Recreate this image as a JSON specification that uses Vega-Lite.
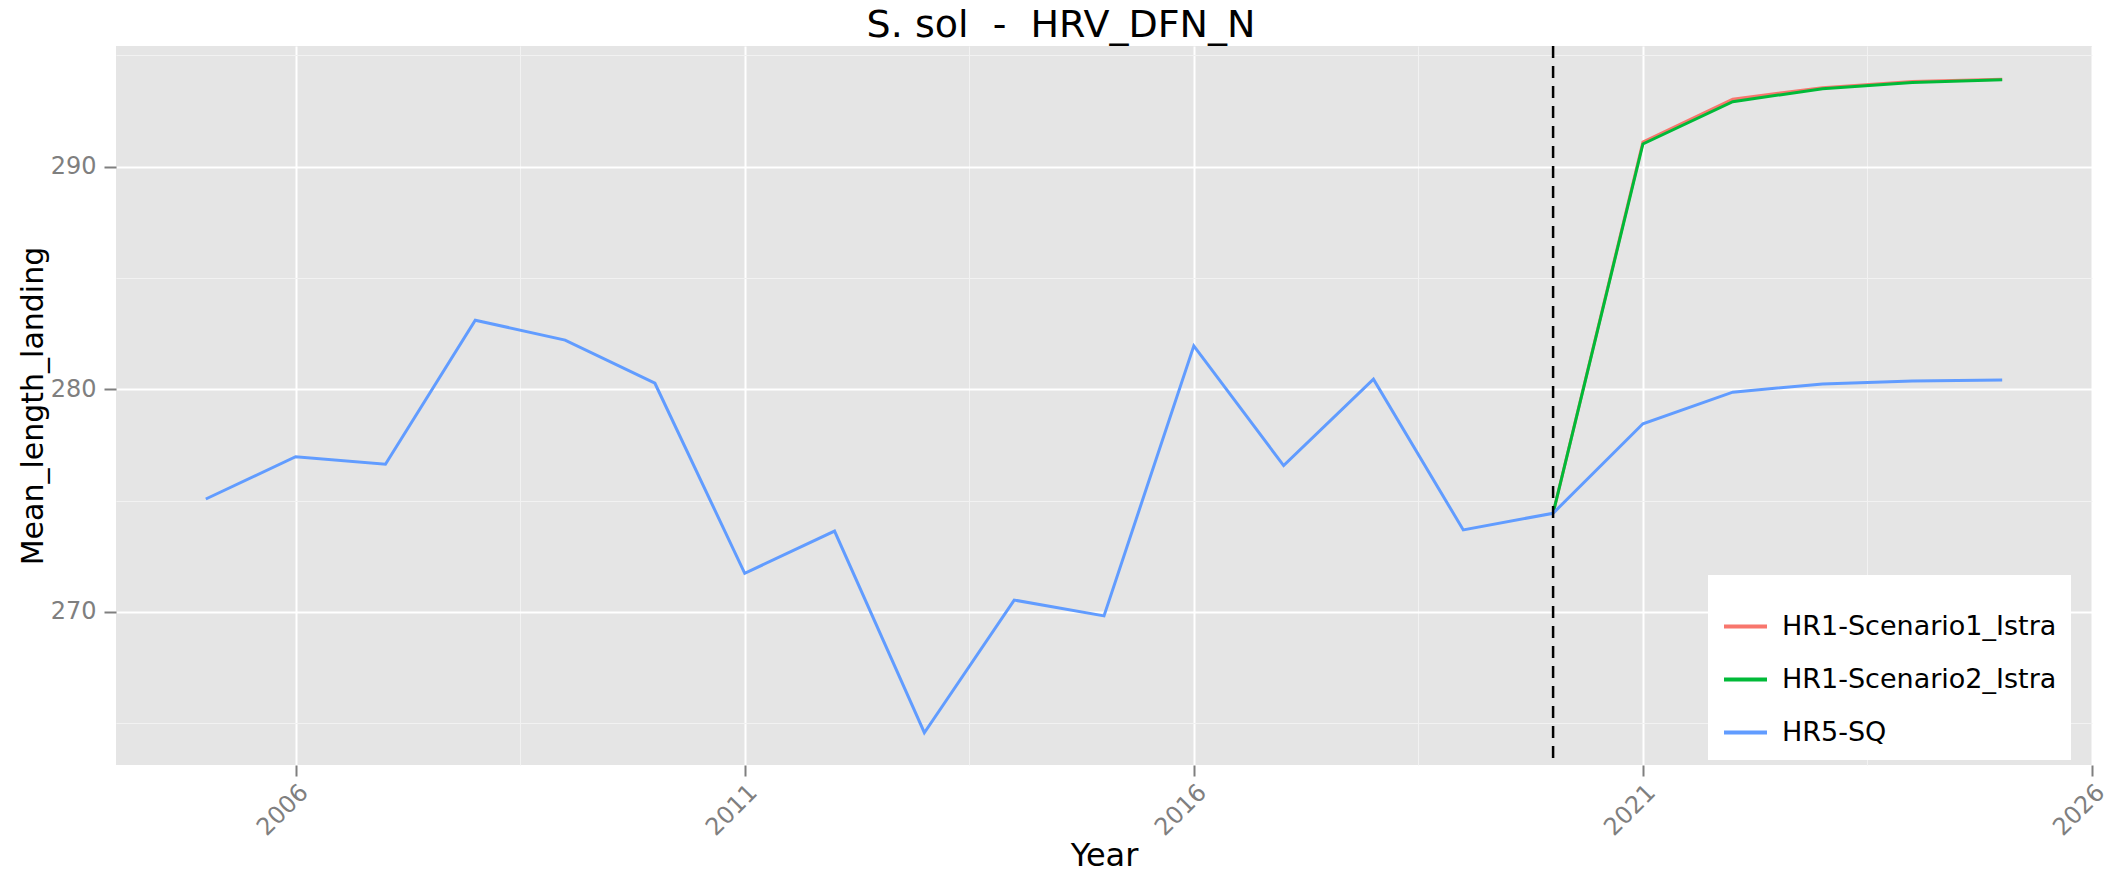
{
  "$schema": "https://vega.github.io/schema/vega-lite/v6.json",
  "width": 1976,
  "height": 719,
  "autosize": {"type": "none"},
  "padding": {"left": 116, "top": 46, "right": 30, "bottom": 110},
  "background": "white",
  "title": {
    "text": "S. sol \u00a0-\u00a0 HRV_DFN_N",
    "font": "DejaVu Sans",
    "fontSize": 38,
    "fontWeight": "normal",
    "color": "black",
    "anchor": "middle",
    "dx": -43,
    "offset": 0
  },
  "config": {
    "view": {"fill": "#E5E5E5", "stroke": null},
    "axis": {"labelFont": "DejaVu Sans", "titleFont": "DejaVu Sans"},
    "legend": {"labelFont": "DejaVu Sans", "titleFont": "DejaVu Sans"}
  },
  "datasets": {
    "series": [
      {"Year": 2020, "Scenario": "HR1-Scenario1_Istra", "Mean_length_landing": 274.43},
      {"Year": 2021, "Scenario": "HR1-Scenario1_Istra", "Mean_length_landing": 291.10},
      {"Year": 2022, "Scenario": "HR1-Scenario1_Istra", "Mean_length_landing": 293.03},
      {"Year": 2023, "Scenario": "HR1-Scenario1_Istra", "Mean_length_landing": 293.55},
      {"Year": 2024, "Scenario": "HR1-Scenario1_Istra", "Mean_length_landing": 293.82},
      {"Year": 2025, "Scenario": "HR1-Scenario1_Istra", "Mean_length_landing": 293.93},
      {"Year": 2020, "Scenario": "HR1-Scenario2_Istra", "Mean_length_landing": 274.43},
      {"Year": 2021, "Scenario": "HR1-Scenario2_Istra", "Mean_length_landing": 291.02},
      {"Year": 2022, "Scenario": "HR1-Scenario2_Istra", "Mean_length_landing": 292.92},
      {"Year": 2023, "Scenario": "HR1-Scenario2_Istra", "Mean_length_landing": 293.50},
      {"Year": 2024, "Scenario": "HR1-Scenario2_Istra", "Mean_length_landing": 293.78},
      {"Year": 2025, "Scenario": "HR1-Scenario2_Istra", "Mean_length_landing": 293.90},
      {"Year": 2005, "Scenario": "HR5-SQ", "Mean_length_landing": 275.07},
      {"Year": 2006, "Scenario": "HR5-SQ", "Mean_length_landing": 276.97},
      {"Year": 2007, "Scenario": "HR5-SQ", "Mean_length_landing": 276.63},
      {"Year": 2008, "Scenario": "HR5-SQ", "Mean_length_landing": 283.10},
      {"Year": 2009, "Scenario": "HR5-SQ", "Mean_length_landing": 282.21},
      {"Year": 2010, "Scenario": "HR5-SQ", "Mean_length_landing": 280.27},
      {"Year": 2011, "Scenario": "HR5-SQ", "Mean_length_landing": 271.73},
      {"Year": 2012, "Scenario": "HR5-SQ", "Mean_length_landing": 273.63},
      {"Year": 2013, "Scenario": "HR5-SQ", "Mean_length_landing": 264.57},
      {"Year": 2014, "Scenario": "HR5-SQ", "Mean_length_landing": 270.53},
      {"Year": 2015, "Scenario": "HR5-SQ", "Mean_length_landing": 269.82},
      {"Year": 2016, "Scenario": "HR5-SQ", "Mean_length_landing": 281.95},
      {"Year": 2017, "Scenario": "HR5-SQ", "Mean_length_landing": 276.57},
      {"Year": 2018, "Scenario": "HR5-SQ", "Mean_length_landing": 280.45},
      {"Year": 2019, "Scenario": "HR5-SQ", "Mean_length_landing": 273.68},
      {"Year": 2020, "Scenario": "HR5-SQ", "Mean_length_landing": 274.43},
      {"Year": 2021, "Scenario": "HR5-SQ", "Mean_length_landing": 278.45},
      {"Year": 2022, "Scenario": "HR5-SQ", "Mean_length_landing": 279.87},
      {"Year": 2023, "Scenario": "HR5-SQ", "Mean_length_landing": 280.24},
      {"Year": 2024, "Scenario": "HR5-SQ", "Mean_length_landing": 280.37},
      {"Year": 2025, "Scenario": "HR5-SQ", "Mean_length_landing": 280.42}
    ],
    "vline": [{"Year": 2020}]
  },
  "layer": [
    {
      "data": {"name": "series"},
      "mark": {"type": "line", "strokeWidth": 3, "interpolate": "linear"},
      "encoding": {
        "x": {
          "field": "Year",
          "type": "quantitative",
          "scale": {"domain": [2004, 2026], "nice": false, "zero": false},
          "axis": {
            "values": [2006, 2008.5, 2011, 2013.5, 2016, 2018.5, 2021, 2023.5, 2026],
            "labelExpr": "(datum.value - 2006) % 5 === 0 ? format(datum.value, 'd') : ''",
            "title": "Year",
            "titleFontSize": 32,
            "titleFontWeight": "normal",
            "titleColor": "black",
            "titlePadding": 0,
            "labelFontSize": 24,
            "labelColor": "#7F7F7F",
            "labelAngle": -45,
            "labelAlign": "right",
            "labelBaseline": "top",
            "labelPadding": 4,
            "labelOverlap": false,
            "labelFlush": false,
            "domain": false,
            "ticks": true,
            "tickSize": 11,
            "tickWidth": 2,
            "tickColor": {"condition": {"test": "(datum.value - 2006) % 5 === 0", "value": "#7F7F7F"}, "value": "transparent"},
            "grid": true,
            "gridColor": {"condition": {"test": "(datum.value - 2006) % 5 === 0", "value": "#FFFFFF"}, "value": "#F2F2F2"},
            "gridWidth": {"condition": {"test": "(datum.value - 2006) % 5 === 0", "value": 2}, "value": 1}
          }
        },
        "y": {
          "field": "Mean_length_landing",
          "type": "quantitative",
          "scale": {"domain": [263.12, 295.42], "nice": false, "zero": false},
          "axis": {
            "values": [265, 270, 275, 280, 285, 290, 295],
            "labelExpr": "datum.value % 10 === 0 ? format(datum.value, 'd') : ''",
            "title": "Mean_length_landing",
            "titleFontSize": 30,
            "titleFontWeight": "normal",
            "titleColor": "black",
            "titlePadding": 2,
            "labelFontSize": 24,
            "labelColor": "#7F7F7F",
            "labelPadding": 8,
            "domain": false,
            "ticks": true,
            "tickSize": 12,
            "tickWidth": 2,
            "tickColor": {"condition": {"test": "datum.value % 10 === 0", "value": "#7F7F7F"}, "value": "transparent"},
            "grid": true,
            "gridColor": {"condition": {"test": "datum.value % 10 === 0", "value": "#FFFFFF"}, "value": "#F2F2F2"},
            "gridWidth": {"condition": {"test": "datum.value % 10 === 0", "value": 2}, "value": 1}
          }
        },
        "color": {
          "field": "Scenario",
          "type": "nominal",
          "scale": {
            "domain": ["HR1-Scenario1_Istra", "HR1-Scenario2_Istra", "HR5-SQ"],
            "range": ["#F8766D", "#00BA38", "#619CFF"]
          },
          "legend": {
            "orient": "none",
            "legendX": 1592,
            "legendY": 529,
            "title": " ",
            "titleFontSize": 12,
            "titlePadding": 2,
            "fillColor": "white",
            "padding": 14,
            "labelFontSize": 27,
            "labelLimit": 400,
            "labelColor": "black",
            "labelOffset": 13,
            "symbolType": "stroke",
            "symbolSize": 1849,
            "symbolStrokeWidth": 4,
            "rowPadding": 16
          }
        }
      }
    },
    {
      "data": {"name": "vline"},
      "mark": {"type": "rule", "color": "black", "strokeWidth": 2.5, "strokeDash": [12, 8]},
      "encoding": {
        "x": {"field": "Year", "type": "quantitative"}
      }
    }
  ]
}
